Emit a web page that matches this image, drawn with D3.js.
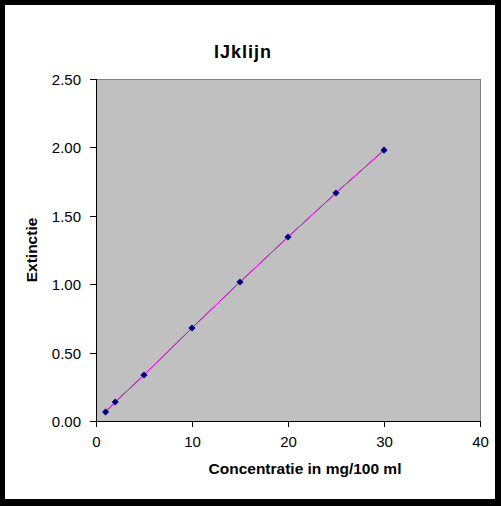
<!DOCTYPE html>
<html><head><meta charset="utf-8">
<script src="https://cdn.jsdelivr.net/npm/d3@7"></script>
<style>body{margin:0;background:#000}svg{display:block}</style>
</head><body>
<script>
const concentration = [1, 2, 5, 10, 15, 20, 25, 30];
const extinction = [0.066, 0.139, 0.336, 0.68, 1.016, 1.345, 1.667, 1.98];
const xTicks = [0, 10, 20, 30, 40];
const yTicks = [0, 0.5, 1.0, 1.5, 2.0, 2.5];
const title = "IJklijn";
const xLabel = "Concentratie in mg/100 ml";
const yLabel = "Extinctie";

const W = 501, H = 506;
const svg = d3.select("body").append("svg").attr("width", W).attr("height", H);
svg.append("rect").attr("width", W).attr("height", H).attr("fill", "#000");
svg.append("rect").attr("x", 5).attr("y", 5).attr("width", 490).attr("height", 494).attr("fill", "#fff");

const L = 96, R = 480, T = 79, B = 421;
const x = d3.scaleLinear().domain([0, 40]).range([L, R]);
const y = d3.scaleLinear().domain([0, 2.5]).range([B, T]);

svg.append("rect").attr("x", L).attr("y", T).attr("width", R - L).attr("height", B - T)
  .attr("fill", "#c0c0c0").attr("stroke", "#808080").attr("stroke-width", 1)
  .attr("shape-rendering", "crispEdges");

const font = "'Liberation Sans', Arial, sans-serif";

const xAxis = svg.append("g").attr("transform", `translate(0,${B})`)
  .call(d3.axisBottom(x).tickValues(xTicks).tickFormat(d3.format("d")).tickSize(6).tickPadding(9));
const yAxis = svg.append("g").attr("transform", `translate(${L},0)`)
  .call(d3.axisLeft(y).tickValues(yTicks).tickFormat(d3.format(".2f")).tickSize(6).tickPadding(9));
[xAxis, yAxis].forEach(g => {
  g.select(".domain").attr("stroke", "#000").attr("shape-rendering", "crispEdges");
  g.selectAll(".tick line").attr("stroke", "#000").attr("shape-rendering", "crispEdges");
  g.selectAll("text").attr("font-family", font).attr("font-size", 15).attr("fill", "#000");
});
yAxis.selectAll("text").attr("dy", "0.36em");

const pts = concentration.map((c, i) => [c, extinction[i]]);
const line = d3.line().x(d => x(d[0])).y(d => y(d[1]));
svg.append("path").attr("d", line(pts)).attr("fill", "none").attr("stroke", "#404040").attr("stroke-width", 1);
svg.append("path").attr("d", line(pts)).attr("fill", "none").attr("stroke", "#ff00ff").attr("stroke-width", 1);

svg.append("g").selectAll("path").data(pts).join("path")
  .attr("transform", d => `translate(${x(d[0])},${y(d[1])})`)
  .attr("d", d3.symbol().type(d3.symbolDiamond2).size(32))
  .attr("fill", "#000080");

svg.append("text").attr("x", 243).attr("y", 58).attr("text-anchor", "middle")
  .attr("font-family", font).attr("font-weight", "bold").attr("font-size", 18)
  .attr("letter-spacing", 1).text(title);
svg.append("text").attr("x", 305).attr("y", 474).attr("text-anchor", "middle")
  .attr("font-family", font).attr("font-weight", "bold").attr("font-size", 15.5).text(xLabel);
svg.append("text").attr("transform", "translate(37,250) rotate(-90)").attr("text-anchor", "middle")
  .attr("font-family", font).attr("font-weight", "bold").attr("font-size", 15.5).text(yLabel);
</script>
</body></html>
